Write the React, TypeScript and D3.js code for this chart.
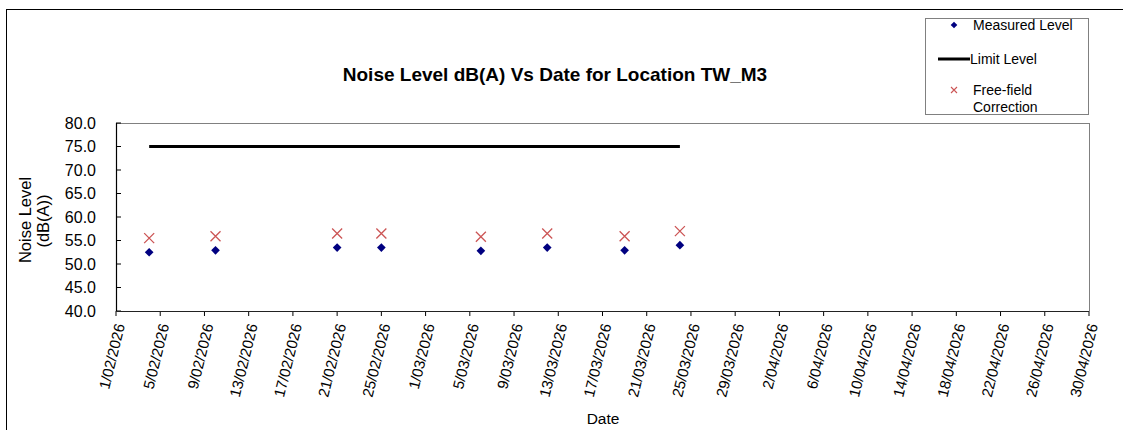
import React from "react";
import * as d3 from "d3";

const dates: string[] = ["2026-02-04", "2026-02-10", "2026-02-21", "2026-02-25", "2026-03-06", "2026-03-12", "2026-03-19", "2026-03-24"];
const measuredLevel: number[] = [52.5, 52.9, 53.5, 53.5, 52.8, 53.5, 52.9, 54.0];
const freeFieldCorrection: number[] = [55.5, 55.9, 56.5, 56.5, 55.8, 56.5, 55.9, 57.0];
const limitLevel: number[] = [75, 75, 75, 75, 75, 75, 75, 75];
const yTicks: number[] = [40, 45, 50, 55, 60, 65, 70, 75, 80];
const xDomain: string[] = ["2026-02-01", "2026-04-30"];

const W = 1123;
const H = 430;
const FONT = "'Liberation Sans', Arial, Helvetica, sans-serif";

const parse = (s: string) => {
  const [y, m, d] = s.split("-").map(Number);
  return new Date(Date.UTC(y, m - 1, d));
};

export default function App() {
  const left = 116, right = 1089, top = 123, bottom = 311;
  const x = d3.scaleUtc().domain(xDomain.map(parse)).range([left, right]);
  const y = d3.scaleLinear().domain([40, 80]).range([bottom, top]);
  const start = parse(xDomain[0]);
  const end = parse(xDomain[1]);
  const xTicks = d3.utcDay.range(start, d3.utcDay.offset(end, 1), 4);
  const fmt = d3.utcFormat("%-d/%m/%Y");
  const pts = dates.map(parse);
  const line = d3
    .line<number>()
    .x((_, i) => x(pts[i]))
    .y((v) => y(v));
  const diamond = d3.symbol().type(d3.symbolDiamond2).size(48)()!;
  const cr = 5;

  return (
    <svg
      width={W}
      height={H}
      style={{ position: "absolute", left: 0, top: 0, display: "block", background: "#fff" }}
      fontFamily={FONT}
    >
      {/* outer frame */}
      <rect x={6.5} y={9.5} width={W + 10} height={H + 10} fill="none" stroke="#000" strokeWidth={1} />

      {/* title */}
      <text x={555} y={81} textAnchor="middle" fontSize={19} fontWeight="bold" fill="#000">
        Noise Level dB(A) Vs Date for Location TW_M3
      </text>

      {/* plot border */}
      <line x1={left} x2={right} y1={top + 0.5} y2={top + 0.5} stroke="#808080" />
      <line x1={right + 0.5} x2={right + 0.5} y1={top} y2={bottom} stroke="#808080" />

      {/* y axis */}
      {yTicks.map((t) => (
        <g key={t}>
          <line x1={left} x2={left + 5} y1={y(t)} y2={y(t)} stroke="#000" />
          <text x={96} y={y(t)} dy="0.35em" textAnchor="end" fontSize={16} fill="#000">
            {t.toFixed(1)}
          </text>
        </g>
      ))}
      <line x1={left + 0.5} x2={left + 0.5} y1={top} y2={bottom} stroke="#000" strokeWidth={1.2} />

      {/* x axis */}
      {xTicks.map((t, i) => (
        <g key={i}>
          <line x1={x(t)} x2={x(t)} y1={bottom} y2={bottom + 5} stroke="#000" />
          <text
            transform={`translate(${x(t) + 4},${bottom + 13}) rotate(-76)`}
            dy="0.35em"
            textAnchor="end"
            fontSize={15}
            fill="#000"
          >
            {fmt(t)}
          </text>
        </g>
      ))}
      <line x1={left} x2={right} y1={bottom + 0.5} y2={bottom + 0.5} stroke="#222" strokeWidth={1.2} />

      {/* axis titles */}
      <text transform="translate(31,220) rotate(-90)" textAnchor="middle" fontSize={16.5} fill="#000">
        Noise Level
      </text>
      <text transform="translate(49,221) rotate(-90)" textAnchor="middle" fontSize={16.5} fill="#000">
        (dB(A))
      </text>
      <text x={603} y={424} textAnchor="middle" fontSize={15.5} fill="#000">
        Date
      </text>

      {/* limit line */}
      <path d={line(limitLevel) ?? ""} fill="none" stroke="#000" strokeWidth={3} />

      {/* measured */}
      {measuredLevel.map((v, i) => (
        <path key={"m" + i} d={diamond} transform={`translate(${x(pts[i])},${y(v)})`} fill="#000080" />
      ))}

      {/* free-field */}
      {freeFieldCorrection.map((v, i) => {
        const cx = x(pts[i]);
        const cy = y(v);
        return (
          <path
            key={"f" + i}
            d={`M${cx - cr},${cy - cr}L${cx + cr},${cy + cr}M${cx - cr},${cy + cr}L${cx + cr},${cy - cr}`}
            stroke="#CC5555"
            strokeWidth={1.3}
            fill="none"
          />
        );
      })}

      {/* legend */}
      <rect x={925.5} y={18.5} width={163} height={96} fill="#fff" stroke="#808080" />
      <path d={d3.symbol().type(d3.symbolDiamond2).size(28)()!} transform="translate(954,25)" fill="#000080" />
      <text x={973} y={25} dy="0.35em" fontSize={14} fill="#000">
        Measured Level
      </text>
      <line x1={938} x2={970} y1={59} y2={59} stroke="#000" strokeWidth={3} />
      <text x={970} y={59} dy="0.35em" fontSize={14} fill="#000">
        Limit Level
      </text>
      <path d="M951,87L957,93M951,93L957,87" stroke="#CC5555" strokeWidth={1.1} fill="none" />
      <text x={973} y={90} dy="0.35em" fontSize={14} fill="#000">
        Free-field
      </text>
      <text x={973} y={107} dy="0.35em" fontSize={14} fill="#000">
        Correction
      </text>
    </svg>
  );
}
